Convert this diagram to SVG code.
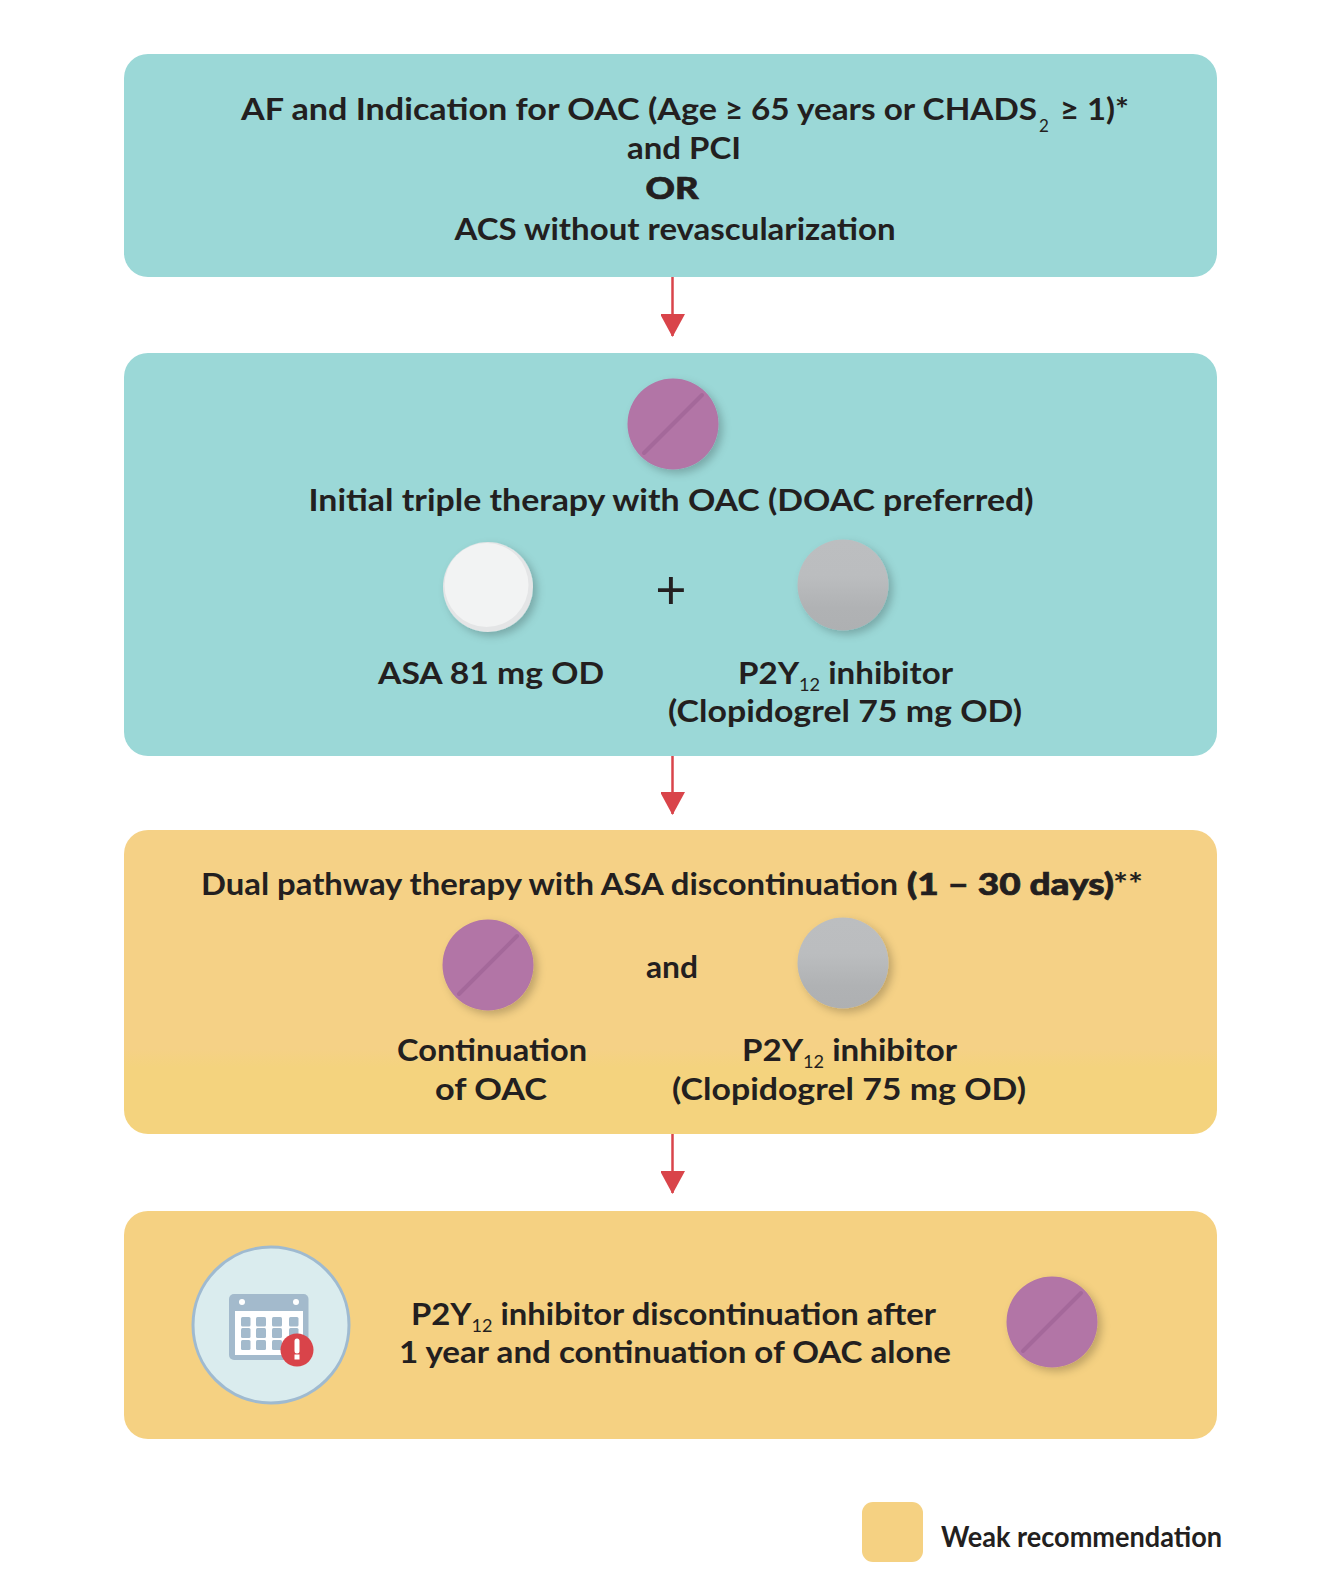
<svg xmlns="http://www.w3.org/2000/svg" width="1334" height="1591" viewBox="0 0 1334 1591">
<style>
.t{font-family:Lato,"Liberation Sans",sans-serif;font-weight:700;font-size:31px;fill:#231f20}
.b{font-weight:900;stroke:#231f20;stroke-width:.7}
.s{font-size:17px;font-weight:400}
.teal{fill:#9bd8d7}
.amber{fill:#f5d182}
.flow{stroke:#d9444a;stroke-width:2.5;fill:none;marker-end:url(#ah)}
</style>
<defs>
<marker id="ah" markerUnits="userSpaceOnUse" markerWidth="26" markerHeight="24" refX="23" refY="12.500" orient="auto"><path d="M1 0L24 12.500L1 25Z" fill="#d9444a"/></marker>
<filter id="sh" x="-30%" y="-30%" width="170%" height="170%"><feDropShadow dx="4" dy="4" stdDeviation="4" flood-color="#000" flood-opacity=".22"/></filter>
<linearGradient id="gr" x1="0" y1="0" x2="0" y2="1"><stop offset="0" stop-color="#bcbec0"/><stop offset=".4" stop-color="#bbbdbf"/><stop offset=".75" stop-color="#b0b2b4"/><stop offset="1" stop-color="#aeb0b2"/></linearGradient>
<linearGradient id="band" x1="0" y1="0" x2="0" y2="1"><stop offset=".72" stop-color="#f5d186"/><stop offset=".78" stop-color="#f4d37e"/></linearGradient>
<g id="purple"><circle r="45.5" fill="#b274a6" filter="url(#sh)"/><path d="M-29 29L29-29" stroke="#a4689a" stroke-width="4" stroke-linecap="round"/></g>
<g id="grey"><circle r="45.5" fill="url(#gr)" filter="url(#sh)"/></g>
</defs>
<rect width="1334" height="1591" fill="#fff"/>
<g id="connectors">
<path class="flow" d="M672.500 277V336"/>
<path class="flow" d="M672.500 756V814"/>
<path class="flow" d="M672.500 1134V1193"/>
</g>
<g id="node-indication">
<rect class="teal" x="124" y="54" width="1093" height="223" rx="24"/>
<text class="t" x="241" y="120" textLength="476" lengthAdjust="spacingAndGlyphs">AF and Indication for OAC (Age</text>
<text class="t" x="725" y="120">≥</text>
<text class="t" x="751" y="120" textLength="286" lengthAdjust="spacingAndGlyphs">65 years or CHADS</text>
<text class="t s" x="1039" y="132">2</text>
<text class="t" x="1060" y="120" textLength="69" lengthAdjust="spacingAndGlyphs">≥ 1)*</text>
<text class="t" x="684" y="159" text-anchor="middle" textLength="114" lengthAdjust="spacingAndGlyphs">and PCI</text>
<text class="t b" x="672" y="199" text-anchor="middle" textLength="53" lengthAdjust="spacingAndGlyphs">OR</text>
<text class="t" x="675" y="240" text-anchor="middle" textLength="441" lengthAdjust="spacingAndGlyphs">ACS without revascularization</text>
</g>
<g id="node-triple">
<rect class="teal" x="124" y="353" width="1093" height="403" rx="24"/>
<use href="#purple" x="673" y="424"/>
<text class="t" x="671" y="511" text-anchor="middle" textLength="725" lengthAdjust="spacingAndGlyphs">Initial triple therapy with OAC (DOAC preferred)</text>
<circle cx="488" cy="587" r="45" fill="#e4e5e6" filter="url(#sh)"/>
<circle cx="486.500" cy="585" r="42" fill="#f2f3f3"/>
<text class="t" x="671" y="609" text-anchor="middle" style="font-size:54px;font-weight:400">+</text>
<use href="#grey" x="843" y="585"/>
<text class="t" x="491" y="684" text-anchor="middle" textLength="226" lengthAdjust="spacingAndGlyphs">ASA 81 mg OD</text>
<text class="t" x="738" y="684" textLength="215" lengthAdjust="spacingAndGlyphs">P2Y<tspan class="s" dy="7">12</tspan><tspan dy="-7"> inhibitor</tspan></text>
<text class="t" x="845" y="722" text-anchor="middle" textLength="354" lengthAdjust="spacingAndGlyphs">(Clopidogrel 75 mg OD)</text>
</g>
<g id="node-dual">
<rect fill="url(#band)" x="124" y="830" width="1093" height="304" rx="24"/>
<text class="t" x="201" y="895" textLength="697" lengthAdjust="spacingAndGlyphs">Dual pathway therapy with ASA discontinuation</text>
<text class="t b" x="907" y="895" textLength="207" lengthAdjust="spacingAndGlyphs">(1 – 30 days)</text>
<text class="t" x="1113" y="895" textLength="30" lengthAdjust="spacingAndGlyphs">**</text>
<use href="#purple" x="488" y="965"/>
<text class="t" x="672" y="978" text-anchor="middle" textLength="52" lengthAdjust="spacingAndGlyphs">and</text>
<use href="#grey" x="843" y="963"/>
<text class="t" x="492" y="1061" text-anchor="middle" textLength="190" lengthAdjust="spacingAndGlyphs">Continuation</text>
<text class="t" x="491" y="1100" text-anchor="middle" textLength="112" lengthAdjust="spacingAndGlyphs">of OAC</text>
<text class="t" x="742" y="1061" textLength="215" lengthAdjust="spacingAndGlyphs">P2Y<tspan class="s" dy="7">12</tspan><tspan dy="-7"> inhibitor</tspan></text>
<text class="t" x="849" y="1100" text-anchor="middle" textLength="354" lengthAdjust="spacingAndGlyphs">(Clopidogrel 75 mg OD)</text>
</g>
<g id="node-discontinuation">
<rect class="amber" x="124" y="1211" width="1093" height="228" rx="24"/>
<circle cx="271" cy="1325" r="78" fill="#daecee" stroke="#9fbad0" stroke-width="3"/>
<rect x="229" y="1294" width="79.500" height="66" rx="5" fill="#a3bacc"/>
<rect x="235" y="1311" width="68" height="44" fill="#fff"/>
<circle cx="242" cy="1302" r="3" fill="#fff"/><circle cx="296" cy="1302" r="3" fill="#fff"/>
<g fill="#a3bacc">
<rect x="241" y="1317" width="9.500" height="9.500" rx="1.500"/><rect x="256" y="1317" width="10" height="9.500" rx="1.500"/><rect x="272" y="1317" width="10" height="9.500" rx="1.500"/><rect x="289" y="1317" width="9.500" height="9.500" rx="1.500"/>
<rect x="241" y="1328" width="9.500" height="10" rx="1.500"/><rect x="256" y="1328" width="10" height="10" rx="1.500"/><rect x="272" y="1328" width="10" height="10" rx="1.500"/><rect x="289" y="1328" width="9.500" height="10" rx="1.500"/>
<rect x="241" y="1340" width="9.500" height="10" rx="1.500"/><rect x="256" y="1340" width="10" height="10" rx="1.500"/><rect x="272" y="1340" width="10" height="10" rx="1.500"/>
</g>
<circle cx="297" cy="1350" r="16.500" fill="#d9444a"/>
<path d="M297 1341V1351" stroke="#fff" stroke-width="5" stroke-linecap="round"/><rect x="294.500" y="1354.500" width="5" height="5" fill="#fff"/>
<text class="t" x="411" y="1325" textLength="525" lengthAdjust="spacingAndGlyphs">P2Y<tspan class="s" dy="7">12</tspan><tspan dy="-7"> inhibitor discontinuation after</tspan></text>
<text class="t" x="399" y="1363" textLength="552" lengthAdjust="spacingAndGlyphs">1 year and continuation of OAC alone</text>
<use href="#purple" x="1052" y="1322"/>
</g>
<g id="legend">
<rect class="amber" x="862" y="1502" width="61" height="60" rx="11"/>
<text class="t" x="941" y="1547" style="font-size:28px" textLength="281" lengthAdjust="spacingAndGlyphs">Weak recommendation</text>
</g>
</svg>
